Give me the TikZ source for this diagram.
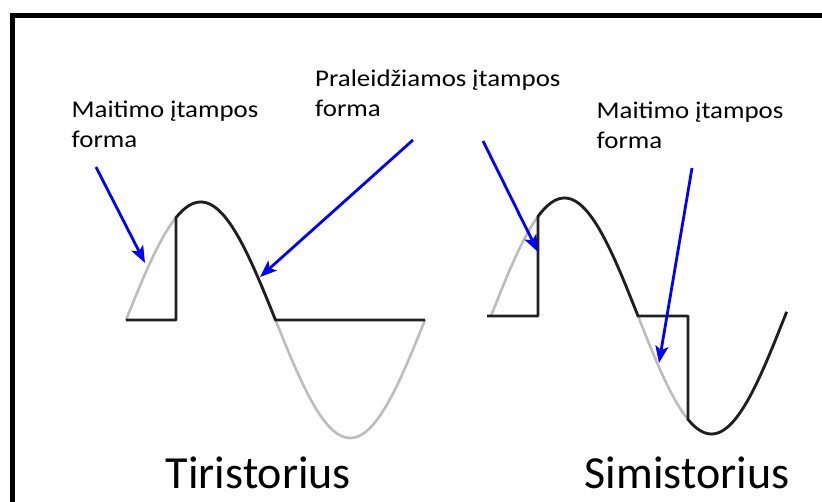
\documentclass[tikz,border=0pt]{standalone}
\usepackage{fontspec}
\setmainfont{Carlito}
\newfontfamily\lblfont[FakeStretch=1.12]{Carlito}
\usetikzlibrary{arrows.meta}
\definecolor{wavegray}{HTML}{BDBDBD}
\definecolor{arrowblue}{HTML}{0000FF}
\tikzset{
  frameline/.style={line width=4.5pt, line join=miter},
  supply/.style={draw=wavegray, line width=2.6pt},
  passed/.style={draw=black!88, line width=2.8pt, line join=round},
  pointer/.style={draw=arrowblue, line width=2.8pt, -{Stealth[length=17pt, width=13pt, inset=4pt]}},
  smalllabel/.style={font=\lblfont\fontsize{24}{30}\selectfont, align=left, anchor=base west, inner sep=0pt},
  biglabel/.style={font=\fontsize{46}{50}\selectfont, anchor=base, inner sep=0pt}
}
\begin{document}
\begin{tikzpicture}[x=1pt, y=-1pt]
\useasboundingbox[fill=white] (0,0) rectangle (822,502);
% frame
\draw[frameline] (12.5,505) -- (12.5,15.5) -- (825,15.5);
% left waveform (Tiristorius)
\draw[supply] plot[domain=0:360, samples=120, smooth] ({126+\x/360*299},{320-118*sin(\x)});
\draw[passed] (126,320) -- (176,320) -- plot[domain=60.2:180, samples=60, smooth] ({126+\x/360*299},{320-118*sin(\x)}) -- (425,320);
% right waveform (Simistorius)
\draw[supply] plot[domain=0:362, samples=120, smooth] ({491+\x/360*294},{316-118*sin(\x)});
\draw[passed] (487,316) -- (538,316) -- plot[domain=57.55:180, samples=60, smooth] ({491+\x/360*294},{316-118*sin(\x)}) -- (688,316) -- plot[domain=241.2:362, samples=60, smooth] ({491+\x/360*294},{316-118*sin(\x)});
% labels (anchor is the baseline of the last line)
\node[smalllabel] (lblA) at (71.5,147.5) {Maitimo įtampos\\forma};
\node[smalllabel] (lblB) at (315,116.5) {Praleidžiamos įtampos\\forma};
\node[smalllabel] (lblC) at (596.5,149) {Maitimo įtampos\\forma};
\node[biglabel] (tir) at (258.5,488) {Tiristorius};
\node[biglabel] (sim) at (687,488) {Simistorius};
% arrow coordinates
\coordinate (a1s) at (96,167);
\coordinate (a1e) at (145,263);
\coordinate (a2s) at (413,140);
\coordinate (a2e) at (260,277);
\coordinate (a3s) at (483,141);
\coordinate (a3e) at (538,252);
\coordinate (a4s) at (692,168);
\coordinate (a4e) at (659,363);
\draw[pointer] (a1s) -- (a1e);
\draw[pointer] (a2s) -- (a2e);
\draw[pointer] (a3s) -- (a3e);
\draw[pointer] (a4s) -- (a4e);
\end{tikzpicture}
\end{document}
